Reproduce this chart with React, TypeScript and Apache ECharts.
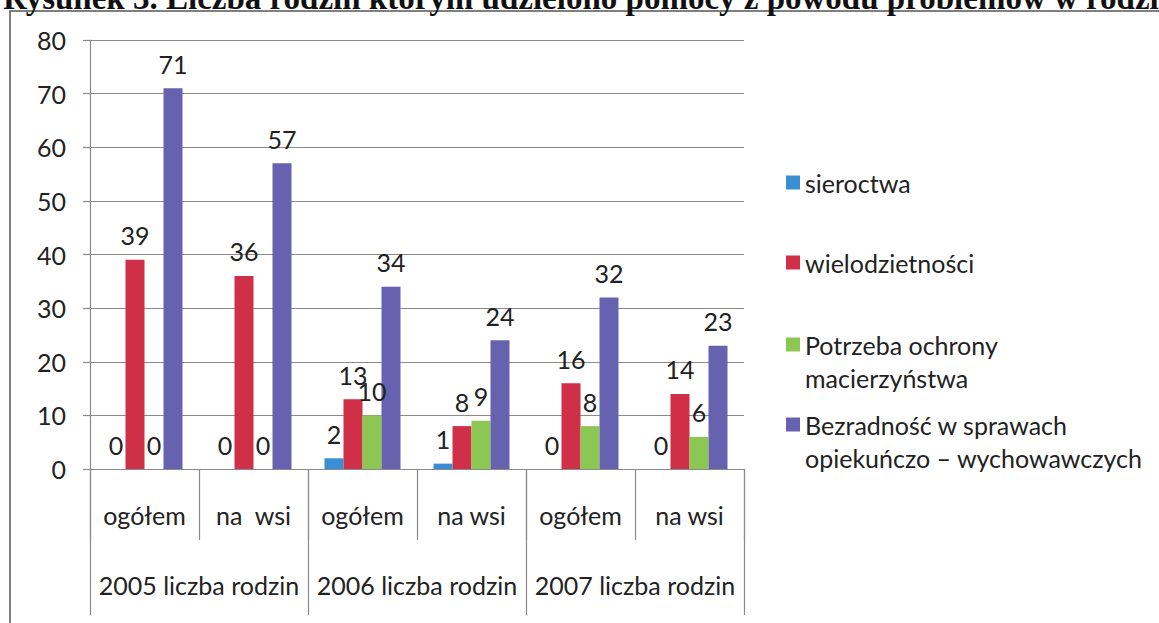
import React, { useEffect, useRef } from "react";
import * as echarts from "echarts";

const subCategories = ["ogółem", "na  wsi", "ogółem", "na wsi", "ogółem", "na wsi"];
const yearCategories = ["2005 liczba rodzin", "2006 liczba rodzin", "2007 liczba rodzin"];
const seriesNames = [
  "sieroctwa",
  "wielodzietności",
  "Potrzeba ochrony\nmacierzyństwa",
  "Bezradność w sprawach\nopiekuńczo – wychowawczych",
];
const sieroctwa = [0, 0, 2, 1, 0, 0];
const wielodzietnosci = [39, 36, 13, 8, 16, 14];
const potrzebaOchrony = [0, 0, 10, 9, 8, 6];
const bezradnosc = [71, 57, 34, 24, 32, 23];
const yTicks = [0, 10, 20, 30, 40, 50, 60, 70, 80];
const titleText =
  "Rysunek 3. Liczba rodzin którym udzielono pomocy z powodu problemów w rodzinie";

const colors = ["#3a8ed4", "#d03047", "#8cc653", "#6762b0"];
const FONT = "Lato";
const FS = 25;
const AXIS = "#8a8a8a";
const TXT = "#222222";

export default function App() {
  const ref = useRef<HTMLDivElement>(null);
  useEffect(() => {
    if (!ref.current) return;
    const chart = echarts.init(ref.current, undefined, { renderer: "svg" });
    const values = [sieroctwa, wielodzietnosci, potrzebaOchrony, bezradnosc];
    const legendTops = [166, 246, 295, 375];
    const option: any = {
      animation: false,
      backgroundColor: "#ffffff",
      textStyle: { fontFamily: FONT },
      graphic: [
        {
          type: "rect",
          shape: { x: 10, y: 11, width: 1400, height: 800 },
          style: { fill: "none", stroke: "#555", lineWidth: 1.5 },
          silent: true,
        },
        {
          type: "text",
          x: 3,
          y: -2,
          style: {
            text: titleText,
            font: 'bold 33px "Liberation Serif"',
            fill: "#111",
            verticalAlign: "middle",
          },
          silent: true,
        },
      ],
      legend: seriesNames.map((n, i) => ({
        data: [n],
        orient: "vertical",
        left: 786,
        top: legendTops[i],
        padding: 0,
        itemWidth: 14,
        itemHeight: 14,
        selectedMode: false,
        icon: "rect",
        formatter: (name: string) => (name.includes("\n") ? "\n" + name : name),
        textStyle: {
          fontFamily: FONT,
          fontSize: FS,
          lineHeight: 33,
          color: TXT,
        },
      })),
      grid: { left: 90, right: 415, top: 40, bottom: 154, containLabel: false },
      xAxis: [
        {
          type: "category",
          data: subCategories,
          position: "bottom",
          axisLine: { show: true, lineStyle: { color: AXIS, width: 1.2 } },
          axisTick: { show: true, length: 71, interval: 0, lineStyle: { color: AXIS, width: 1.2 } },
          axisLabel: { interval: 0, margin: 33, fontSize: FS, color: TXT, fontFamily: FONT },
          splitLine: { show: false },
        },
        {
          type: "category",
          data: yearCategories,
          position: "bottom",
          offset: 0,
          axisLine: { show: false },
          axisTick: { show: true, length: 146, interval: 0, lineStyle: { color: AXIS, width: 1.2 } },
          axisLabel: { interval: 0, margin: 103, fontSize: FS, color: TXT, fontFamily: FONT },
          splitLine: { show: false },
        },
      ],
      yAxis: {
        type: "value",
        min: yTicks[0],
        max: yTicks[yTicks.length - 1],
        interval: 10,
        axisLine: { show: true, lineStyle: { color: AXIS, width: 1.2 } },
        axisTick: { show: true, length: 7, lineStyle: { color: AXIS, width: 1.2 } },
        axisLabel: { margin: 24, fontSize: FS, color: TXT, fontFamily: FONT },
        splitLine: { show: true, lineStyle: { color: AXIS, width: 1.2 } },
      },
      series: seriesNames.map((n, i) => ({
        name: n,
        type: "bar",
        xAxisIndex: 0,
        data: values[i],
        barWidth: 19,
        barGap: "0%",
        itemStyle: { color: colors[i] },
        label: {
          show: true,
          position: "top",
          distance: 12,
          fontSize: FS,
          fontFamily: FONT,
          color: TXT,
        },
      })),
    };
    chart.setOption(option);
    return () => chart.dispose();
  }, []);
  return (
    <div
      ref={ref}
      style={{ position: "absolute", left: 0, top: 0, width: 1159, height: 623, background: "#fff" }}
    />
  );
}
